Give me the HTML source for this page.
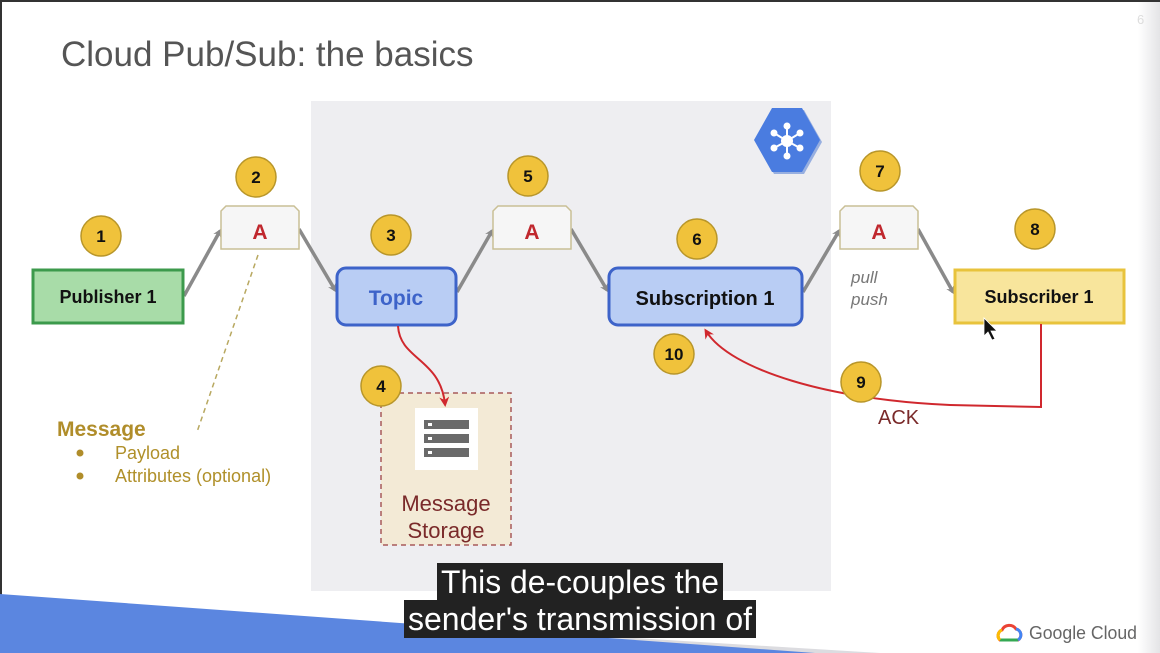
<!DOCTYPE html>
<html><head><meta charset="utf-8"><style>
html,body{margin:0;padding:0;background:#fff;}
svg{display:block;font-family:"Liberation Sans",Arial,sans-serif;}
</style></head><body>
<svg width="1160" height="653" viewBox="0 0 1160 653" xmlns="http://www.w3.org/2000/svg">
<defs>
<marker id="ga" markerWidth="9" markerHeight="9" refX="6" refY="4.5" orient="auto" markerUnits="userSpaceOnUse"><path d="M0,0 L9,4.5 L0,9 L3,4.5 Z" fill="#8a8a8a"/></marker>
<marker id="ra" markerWidth="10" markerHeight="10" refX="7" refY="5" orient="auto" markerUnits="userSpaceOnUse"><path d="M0,0 L10,5 L0,10 L3,5 Z" fill="#d0282e"/></marker>
<linearGradient id="rs" x1="0" x2="1"><stop offset="0" stop-color="#fff"/><stop offset="1" stop-color="#e4e4e6"/></linearGradient>
</defs>
<rect width="1160" height="653" fill="#fff"/>
<rect x="1138" y="0" width="22" height="653" fill="url(#rs)"/>
<rect x="0" y="0" width="1160" height="2" fill="#333"/>
<rect x="0" y="0" width="2" height="653" fill="#333"/>
<text x="1137" y="24" font-size="13" fill="#ddd">6</text>
<text x="61" y="66" font-size="35" fill="#555">Cloud Pub/Sub: the basics</text>
<rect x="311" y="101" width="520" height="490" fill="#eeeef1"/>
<polygon points="0,599 880,653 0,653" fill="#dcdce0"/>
<polygon points="0,594 815,653 0,653" fill="#5b86e0"/>
<polygon points="772,108 802,108 820,140 802,172 772,172 754,140" fill="#3f6fd0" opacity="0.5" transform="translate(2,2)"/>
<polygon points="772,108 802,108 820,140 802,172 772,172 754,140" fill="#4a7ce0"/>
<g fill="#fff" stroke="#fff" stroke-width="2"><line x1="787" y1="141" x2="787" y2="126"/><line x1="787" y1="141" x2="774" y2="133"/><line x1="787" y1="141" x2="800" y2="133"/><line x1="787" y1="141" x2="774" y2="148"/><line x1="787" y1="141" x2="800" y2="148"/><line x1="787" y1="141" x2="787" y2="156"/>
<circle cx="787" cy="141" r="5"/><circle cx="787" cy="126" r="2.5"/><circle cx="774" cy="133" r="2.5"/><circle cx="800" cy="133" r="2.5"/><circle cx="774" cy="148" r="2.5"/><circle cx="800" cy="148" r="2.5"/><circle cx="787" cy="156" r="2.5"/></g>
<g stroke="#8a8a8a" stroke-width="3.5" fill="none" marker-end="url(#ga)">
<line x1="184" y1="296" x2="220" y2="231"/>
<line x1="299" y1="229" x2="335" y2="290"/>
<line x1="457" y1="292" x2="492" y2="231"/>
<line x1="571" y1="229" x2="607" y2="290"/>
<line x1="803" y1="292" x2="839" y2="231"/>
<line x1="918" y1="229" x2="953" y2="292"/>
</g>
<g fill="#f6f6f6" stroke="#c9bf95" stroke-width="1.5">
<polygon points="221,249 221,211 226,206 294,206 299,211 299,249"/>
<polygon points="493,249 493,211 498,206 566,206 571,211 571,249"/>
<polygon points="840,249 840,211 845,206 913,206 918,211 918,249"/>
</g>
<g font-size="21" font-weight="bold" fill="#c0282e" text-anchor="middle">
<text x="260" y="239">A</text><text x="532" y="239">A</text><text x="879" y="239">A</text>
</g>
<rect x="33" y="270" width="150" height="53" fill="#a8dca8" stroke="#3c9a4c" stroke-width="3"/>
<text x="108" y="303" font-size="18" font-weight="bold" text-anchor="middle" fill="#111">Publisher 1</text>
<rect x="337" y="268" width="119" height="57" rx="9" fill="#b9cdf4" stroke="#3d63c9" stroke-width="3"/>
<text x="396" y="305" font-size="21" font-weight="bold" text-anchor="middle" fill="#3d63c9">Topic</text>
<rect x="609" y="268" width="193" height="57" rx="9" fill="#b9cdf4" stroke="#3d63c9" stroke-width="3"/>
<text x="705" y="305" font-size="20" font-weight="bold" text-anchor="middle" fill="#111">Subscription 1</text>
<rect x="955" y="270" width="169" height="53" fill="#f8e59c" stroke="#e8c33c" stroke-width="3"/>
<text x="1039" y="303" font-size="18" font-weight="bold" text-anchor="middle" fill="#111">Subscriber 1</text>
<g font-size="17" font-style="italic" fill="#777"><text x="851" y="283">pull</text><text x="851" y="305">push</text></g>
<rect x="381" y="393" width="130" height="152" fill="#f3ead6" stroke="#a85a5a" stroke-width="1.5" stroke-dasharray="5,4"/>
<rect x="415" y="408" width="63" height="62" fill="#fff"/>
<g fill="#6a6a6a"><rect x="424" y="420" width="45" height="9"/><rect x="424" y="434" width="45" height="9"/><rect x="424" y="448" width="45" height="9"/></g>
<g fill="#fff"><rect x="428" y="423" width="4" height="3"/><rect x="428" y="437" width="4" height="3"/><rect x="428" y="451" width="4" height="3"/></g>
<g font-size="22" fill="#7a2a2a" text-anchor="middle"><text x="446" y="511">Message</text><text x="446" y="538">Storage</text></g>
<path d="M398,326 C400,360 440,358 445,404" stroke="#d0282e" stroke-width="2" fill="none" marker-end="url(#ra)"/>
<path d="M1041,324 L1041,407 L950,405 C830,400 730,370 706,331" stroke="#d0282e" stroke-width="2" fill="none" marker-end="url(#ra)"/>
<text x="878" y="424" font-size="20" fill="#7a2a2a">ACK</text>
<line x1="258" y1="255" x2="197" y2="432" stroke="#b8a860" stroke-width="1.5" stroke-dasharray="5,4"/>
<text x="57" y="436" font-size="21" font-weight="bold" fill="#b08d2a">Message</text>
<g fill="#b08d2a"><circle cx="80" cy="453" r="3.5"/><circle cx="80" cy="476" r="3.5"/></g>
<g font-size="18" fill="#b0902a"><text x="115" y="459">Payload</text><text x="115" y="482">Attributes (optional)</text></g>
<g fill="#f0c23b" stroke="#b8962a" stroke-width="1.5">
<circle cx="101" cy="236" r="20"/><circle cx="256" cy="177" r="20"/><circle cx="391" cy="235" r="20"/><circle cx="528" cy="176" r="20"/><circle cx="697" cy="239" r="20"/><circle cx="880" cy="171" r="20"/><circle cx="1035" cy="229" r="20"/><circle cx="381" cy="386" r="20"/><circle cx="674" cy="354" r="20"/><circle cx="861" cy="382" r="20"/>
</g>
<g font-size="17" font-weight="bold" fill="#111" text-anchor="middle">
<text x="101" y="242">1</text><text x="256" y="183">2</text><text x="391" y="241">3</text><text x="528" y="182">5</text><text x="697" y="245">6</text><text x="880" y="177">7</text><text x="1035" y="235">8</text><text x="381" y="392">4</text><text x="674" y="360">10</text><text x="861" y="388">9</text>
</g>
<path d="M984,318 L984,336 L988,332 L992,340 L995,339 L991,331 L997,331 Z" fill="#111" stroke="#fff" stroke-width="0.8"/>
<rect x="437" y="563" width="286" height="37" fill="#222"/>
<rect x="404" y="600" width="352" height="38" fill="#222"/>
<g font-size="32" fill="#fff">
<text x="441" y="593" textLength="278" lengthAdjust="spacingAndGlyphs">This de-couples the</text>
<text x="408" y="630" textLength="344" lengthAdjust="spacingAndGlyphs">sender's transmission of</text>
</g>
<g transform="translate(996,622)">
<path d="M4,18 a6,6 0 0 1 2,-10 a8,8 0 0 1 14,-1 a6,6 0 0 1 2,11 Z" fill="none" stroke="#ea4335" stroke-width="3"/>
<path d="M4,18 L22,18" stroke="#34a853" stroke-width="3"/>
<path d="M22,18 a6,6 0 0 0 -2,-11" stroke="#4285f4" stroke-width="3" fill="none"/>
<path d="M4,18 a6,6 0 0 1 2,-10" stroke="#fbbc05" stroke-width="3" fill="none"/>
</g>
<text x="1029" y="639" font-size="18" fill="#666" textLength="108" lengthAdjust="spacingAndGlyphs">Google Cloud</text>
</svg>
</body></html>
